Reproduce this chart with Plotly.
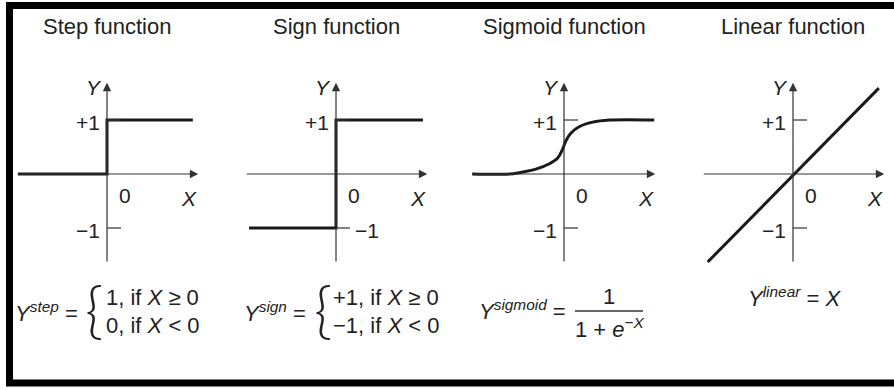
import plotly.graph_objects as go

W, H = 894, 390
UNIT = 54  # px per unit on every panel

titles = ['Step function', 'Sign function', 'Sigmoid function', 'Linear function']
centers = [107, 336, 564, 793]  # pixel position of each Y axis

step_x = [-1.65, 0, 0, 1.59]
step_y = [0, 0, 1, 1]
sign_x = [-1.61, 0, 0, 1.61]
sign_y = [-1, -1, 1, 1]
sigmoid_x = [-1.7, -1.01, -0.83, -0.52, -0.27, -0.12, -0.03, 0.04, 0.13, 0.28, 0.53, 0.84, 1.67]
sigmoid_y = [0, 0, 0.025, 0.09, 0.19, 0.29, 0.45, 0.625, 0.76, 0.875, 0.96, 1.0, 1.0]
linear_x = [-1.58, 1.59]
linear_y = [-1.63, 1.59]

curves = [(step_x, step_y, 'linear'), (sign_x, sign_y, 'linear'),
          (sigmoid_x, sigmoid_y, 'spline'), (linear_x, linear_y, 'linear')]

FONT = 'Liberation Sans, Arial, sans-serif'
TXT = '#222222'


def px(x, y):
    return x / W, 1 - y / H


fig = go.Figure()
ann = []
shapes = []
lay = {}

# common y geometry: panel spans 70..280 px, origin at 174 px
y_top, y_bot, y0 = 70, 280, 174
yr = [(y0 - y_bot) / UNIT, (y0 - y_top) / UNIT]

for i, (c, (cx, cy, shp)) in enumerate(zip(centers, curves)):
    k = '' if i == 0 else str(i + 1)
    xa, ya = 'x' + k, 'y' + k
    lay['xaxis' + k] = dict(domain=[(c - 100) / W, (c + 100) / W], range=[-100 / UNIT, 100 / UNIT],
                            visible=False, anchor=ya, fixedrange=True)
    lay['yaxis' + k] = dict(domain=[1 - y_bot / H, 1 - y_top / H], range=yr,
                            visible=False, anchor=xa, fixedrange=True)

    # axes with arrows
    ann.append(dict(x=1.69, y=0, ax=-1.68, ay=0, xref=xa, yref=ya, axref=xa, ayref=ya, text='',
                    showarrow=True, arrowhead=2, arrowsize=1.4, arrowwidth=1.2, arrowcolor='#333'))
    ann.append(dict(x=0, y=1.69, ax=0, ay=-1.65, xref=xa, yref=ya, axref=xa, ayref=ya, text='',
                    showarrow=True, arrowhead=2, arrowsize=1.4, arrowwidth=1.2, arrowcolor='#333'))
    # ticks at +1 / -1
    for t in (1, -1):
        shapes.append(dict(type='line', xref=xa, yref=ya, x0=0, x1=0.26, y0=t, y1=t,
                           line=dict(color='#333', width=1.2)))

    fig.add_trace(go.Scatter(x=cx, y=cy, mode='lines', xaxis=xa, yaxis=ya, showlegend=False,
                             line=dict(color='#1a1a1a', width=3, shape=shp), hoverinfo='skip'))

    # axis labels
    lab = dict(xref=xa, yref=ya, showarrow=False, yanchor='middle',
               font=dict(family=FONT, size=21, color=TXT))
    ann.append(dict(lab, x=-0.06, y=1.6, text='<i>Y</i>', xanchor='right'))
    ann.append(dict(lab, x=1.52, y=-0.45, text='<i>X</i>', xanchor='center'))
    ann.append(dict(lab, x=0.18, y=-0.4, text='0', xanchor='left'))
    ann.append(dict(lab, x=-0.1, y=0.95, text='+1', xanchor='right'))
    if i == 1:
        ann.append(dict(lab, x=0.31, y=-1.04, text='\u22121', xanchor='left'))
    else:
        ann.append(dict(lab, x=-0.1, y=-1.04, text='\u22121', xanchor='right'))

    tx, ty = px(c, 27)
    ann.append(dict(xref='paper', yref='paper', x=tx, y=ty, text=titles[i], showarrow=False,
                    xanchor='center', yanchor='middle',
                    font=dict(family=FONT, size=22, color=TXT)))


def note(x, y, text, size=22, xanchor='left', family=FONT, weight='normal'):
    a, b = px(x, y)
    ann.append(dict(xref='paper', yref='paper', x=a, y=b, text=text, showarrow=False,
                    xanchor=xanchor, yanchor='middle',
                    font=dict(family=family, size=size, color=TXT, weight=weight)))


BRACE = 'Lato, DejaVu Sans, sans-serif'

# formulas
note(80, 312, '<i>Y</i><sup><i>step</i></sup> =', xanchor='right')
note(94, 308, '{', size=62, xanchor='center', family=BRACE, weight=300)
note(104, 297, '1, if <i>X</i> \u2265 0')
note(104, 325, '0, if <i>X</i> &lt; 0')

note(308, 312, '<i>Y</i><sup><i>sign</i></sup> =', xanchor='right')
note(323, 308, '{', size=62, xanchor='center', family=BRACE, weight=300)
note(331, 297, '+1, if <i>X</i> \u2265 0')
note(331, 325, '\u22121, if <i>X</i> &lt; 0')

note(568, 310, '<i>Y</i><sup><i>sigmoid</i></sup> =', xanchor='right')
note(609, 296, '1', xanchor='center')
note(610, 328, '1 + <i>e</i><sup>\u2212<i>X</i></sup>', xanchor='center')
bx0, by = px(575, 311)
bx1, _ = px(643, 311)
shapes.append(dict(type='line', xref='paper', yref='paper', x0=bx0, x1=bx1, y0=by, y1=by,
                   line=dict(color='#333', width=1.5)))

note(746, 297, '<i>Y</i><sup><i>linear</i></sup> = <i>X</i>')

# frame
fx0, fy0 = px(9.5, 5.5)
fx1, fy1 = px(905, 383)
shapes.append(dict(type='rect', xref='paper', yref='paper', x0=fx0, y0=fy1, x1=fx1, y1=fy0,
                   line=dict(color='#000', width=7)))

fig.update_layout(width=W, height=H, margin=dict(l=0, r=0, t=0, b=0),
                  paper_bgcolor='white', plot_bgcolor='white',
                  annotations=ann, shapes=shapes, **lay)

fig.write_html("out.html", config={'displayModeBar': False},
               post_script="document.body.style.margin='0';")
